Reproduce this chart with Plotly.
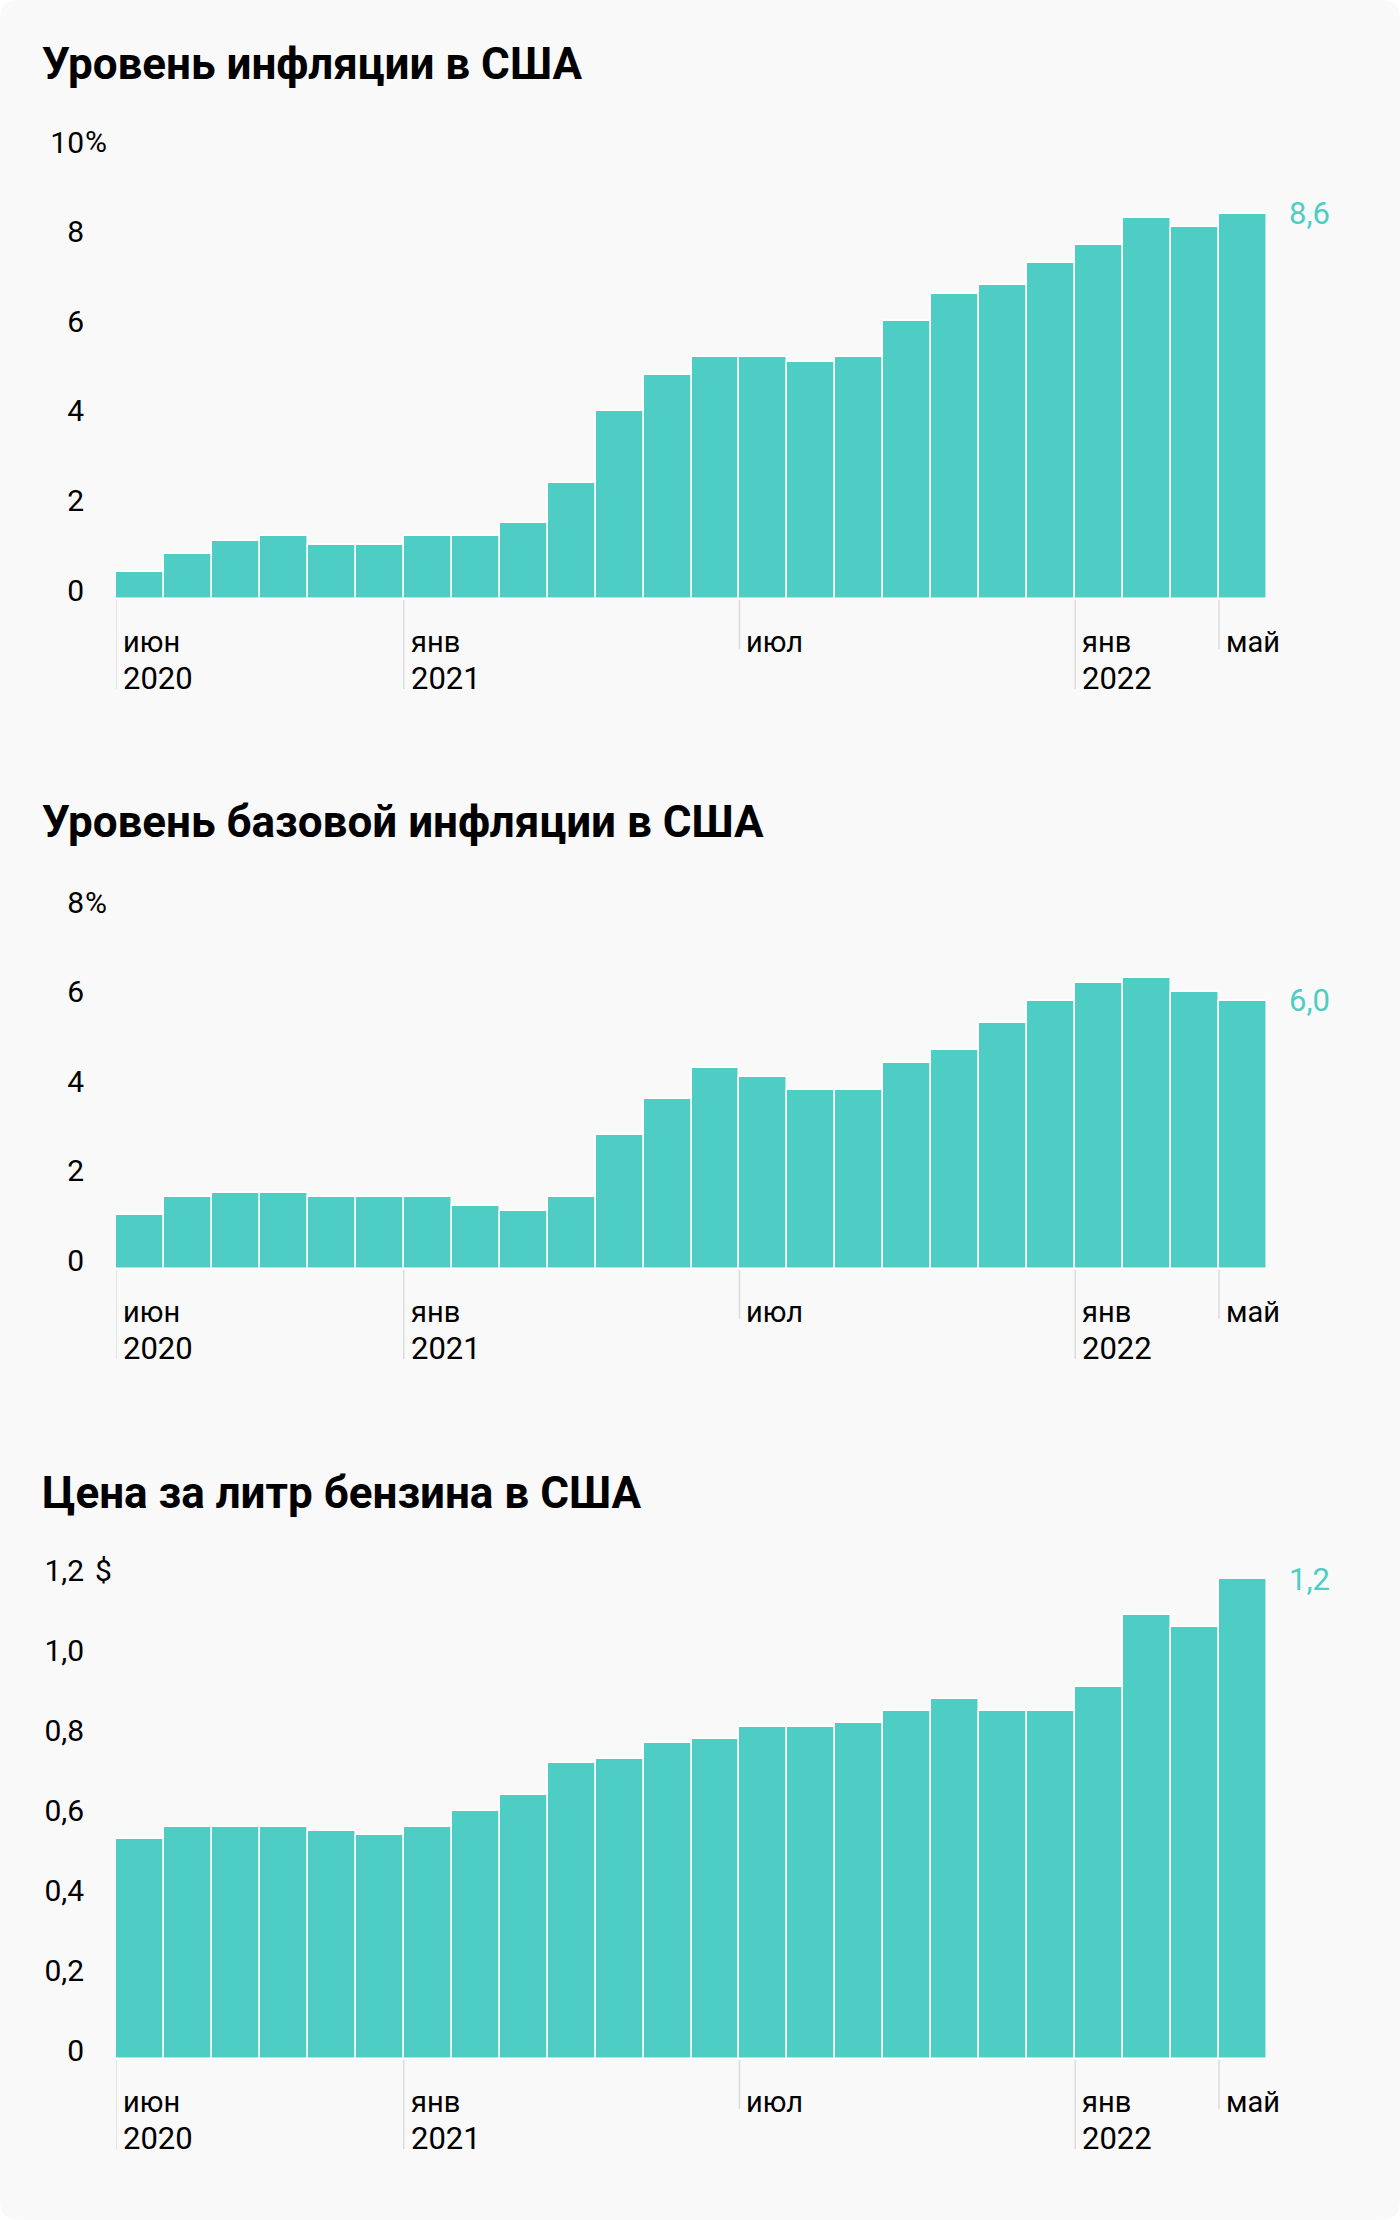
import plotly.graph_objects as go

# ---------------- data ----------------
months = ["2020-06", "2020-07", "2020-08", "2020-09", "2020-10", "2020-11", "2020-12",
          "2021-01", "2021-02", "2021-03", "2021-04", "2021-05", "2021-06", "2021-07",
          "2021-08", "2021-09", "2021-10", "2021-11", "2021-12", "2022-01", "2022-02",
          "2022-03", "2022-04", "2022-05"]

cpi = [0.6, 1.0, 1.3, 1.4, 1.2, 1.2, 1.4, 1.4, 1.7, 2.6, 4.2, 5.0, 5.4, 5.4, 5.3, 5.4,
       6.2, 6.8, 7.0, 7.5, 7.9, 8.5, 8.3, 8.6]
core = [1.2, 1.6, 1.7, 1.7, 1.6, 1.6, 1.6, 1.4, 1.3, 1.6, 3.0, 3.8, 4.5, 4.3, 4.0, 4.0,
        4.6, 4.9, 5.5, 6.0, 6.4, 6.5, 6.2, 6.0]
gas = [0.55, 0.58, 0.58, 0.58, 0.57, 0.56, 0.58, 0.62, 0.66, 0.74, 0.75, 0.79, 0.80, 0.83,
       0.83, 0.84, 0.87, 0.90, 0.87, 0.87, 0.93, 1.11, 1.08, 1.20]

titles = ["Уровень инфляции в США", "Уровень базовой инфляции в США", "Цена за литр бензина в США"]
cpi_ticks = [0, 2, 4, 6, 8, 10]
core_ticks = [0, 2, 4, 6, 8]
gas_ticks = [0, 0.2, 0.4, 0.6, 0.8, 1.0, 1.2]
unit_suffix = ["%", "%", "$"]

# x-axis tick marks (index of the bar whose left edge carries the tick)
tick_idx = [0, 6, 13, 20, 23]
tick_month = ["июн", "янв", "июл", "янв", "май"]
tick_year = ["2020", "2021", "", "2022", ""]

# ---------------- layout constants (pixels) ----------------
W, H = 1400, 2220
BAR = "#4ecdc4"
BG = "#f9f9f9"
FONT = "Roboto"
x_left, x_right = 116, 1267
zero_px = [599, 1269, 2059]
top_px = [151, 911, 1579]
title_px = [64, 822, 1493]


def fx(px):
    return px / W


def fy(py):
    return 1 - py / H


def fmt(v, decimals):
    if v == 0:
        return "0"
    return f"{v:.{decimals}f}".replace(".", ",")


series = [cpi, core, gas]
ticks = [cpi_ticks, core_ticks, gas_ticks]
decs = [0, 0, 1]

fig = go.Figure()
xs = list(range(len(months)))
annotations = []
shapes = []

# rounded card background
r = 20
rx, ry = r / W, r / H
shapes.append(dict(
    type="path", xref="paper", yref="paper", layer="below",
    path=(f"M {rx},0 L {1-rx},0 Q 1,0 1,{ry} L 1,{1-ry} Q 1,1 {1-rx},1 "
          f"L {rx},1 Q 0,1 0,{1-ry} L 0,{ry} Q 0,0 {rx},0 Z"),
    fillcolor=BG, line=dict(width=0)))

layout_axes = {}
for k in range(3):
    sfx = "" if k == 0 else str(k + 1)
    xa, ya = "x" + sfx, "y" + sfx
    vals = series[k]
    fig.add_trace(go.Bar(
        x=xs, y=vals, xaxis=xa, yaxis=ya,
        marker=dict(color=BAR, line=dict(color="white", width=1.5)),
        hovertext=months, showlegend=False))

    tv = ticks[k]
    tt = [fmt(v, decs[k]) for v in tv]
    layout_axes["xaxis" + sfx] = dict(
        domain=[fx(x_left), fx(x_right)], range=[-0.5, len(xs) - 0.5],
        anchor=ya, showgrid=False, zeroline=False, showline=False,
        showticklabels=False, ticks="", fixedrange=True, automargin=False)
    layout_axes["yaxis" + sfx] = dict(
        domain=[fy(zero_px[k]), fy(top_px[k])], range=[0, tv[-1]],
        anchor=xa, showgrid=False, zeroline=False, showline=False,
        tickvals=tv, ticktext=tt, ticks="",
        tickfont=dict(family=FONT, size=30, color="#000"),
        ticklabelstandoff=31, ticklabelshift=-9, fixedrange=True, automargin=False)

    # unit suffix next to top tick
    suf = unit_suffix[k]
    annotations.append(dict(
        xref="paper", yref=ya, x=fx(83 if suf == "%" else 93), y=tv[-1],
        xanchor="left", yanchor="middle", yshift=9, showarrow=False,
        text=suf, font=dict(family=FONT, size=30, color="#000")))

    # title
    annotations.append(dict(
        xref="paper", yref="paper", x=fx(40), y=fy(title_px[k]),
        xanchor="left", yanchor="middle", showarrow=False,
        text=f"<b>{titles[k]}</b>", font=dict(family=FONT, size=44, color="#000")))

    # last value label
    annotations.append(dict(
        xref=xa, yref=ya, x=xs[-1] + 0.5, y=vals[-1], xshift=20,
        xanchor="left", yanchor="middle", showarrow=False,
        text=fmt(vals[-1], 1), font=dict(family=FONT, size=31, color=BAR)))

    # x ticks and labels
    z = zero_px[k]
    for i, m, yr in zip(tick_idx, tick_month, tick_year):
        xpos = xs[i] - 0.5
        length = 90 if yr else 50
        shapes.append(dict(
            type="line", xref=xa, yref="paper", x0=xpos, x1=xpos,
            y0=fy(z + 1), y1=fy(z + length),
            line=dict(color="#dcdcdc", width=1.5), layer="below"))
        annotations.append(dict(
            xref=xa, yref="paper", x=xpos, y=fy(z + 43), xshift=5,
            xanchor="left", yanchor="middle", showarrow=False,
            text=m, font=dict(family=FONT, size=29, color="#000")))
        if yr:
            annotations.append(dict(
                xref=xa, yref="paper", x=xpos, y=fy(z + 79), xshift=5,
                xanchor="left", yanchor="middle", showarrow=False,
                text=yr, font=dict(family=FONT, size=31, color="#000")))

fig.update_layout(
    width=W, height=H, margin=dict(l=0, r=0, t=0, b=0, pad=0, autoexpand=False),
    paper_bgcolor="white", plot_bgcolor="rgba(0,0,0,0)",
    bargap=0, font=dict(family=FONT, color="#000"), showlegend=False,
    annotations=annotations, shapes=shapes, **layout_axes)

fig.write_html("out.html", config={"displayModeBar": False},
               post_script="document.body.style.margin='0';document.body.style.overflow='hidden';")
